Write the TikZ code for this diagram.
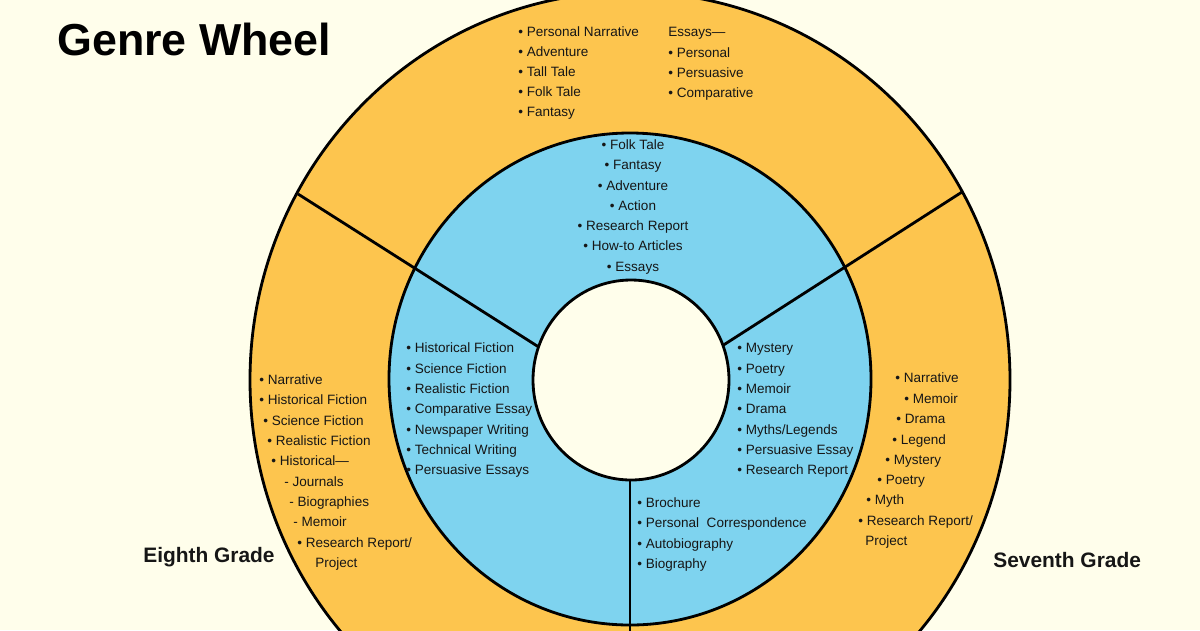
\documentclass[tikz,border=0pt]{standalone}
\usepackage{fontspec}
\setmainfont{Liberation Sans}
\definecolor{wheelorange}{RGB}{253,197,78}
\definecolor{wheelblue}{RGB}{126,211,239}
\definecolor{paper}{RGB}{255,254,235}
\definecolor{ink}{RGB}{22,22,22}

\begin{document}
\begin{tikzpicture}[x=0.02cm, y=-0.02cm,
        item/.style={font=\fontsize{7.7}{9}\selectfont, text=ink, inner sep=0pt, anchor=base west},
        grade/.style={font=\fontsize{11.9}{14}\selectfont\bfseries, text=ink, inner sep=0pt, anchor=base west},
        ring/.style={draw=black, line width=1.6pt}]
        \useasboundingbox (0,0) rectangle (1200,630);
        \clip (0,0) rectangle (1200,630);
        \fill[paper] (0,0) rectangle (1200,630);

        \coordinate (hub) at (630,405);
        \coordinate (cutleft) at (298,194);
        \coordinate (cutright) at (962,192);
        \coordinate (cutdown) at (630,780);
        \coordinate (hubdown) at (630,380);

        \draw[ring, fill=wheelorange] (630,380) ellipse [x radius=380, y radius=388];
        \draw[ring, fill=wheelblue] (630,379) ellipse [x radius=241, y radius=246];
        \draw[ring] (cutleft) -- (hub);
        \draw[ring] (cutright) -- (hub);
        \draw[ring] (hubdown) -- (cutdown);
        \draw[ring, fill=paper] (631,380) ellipse [x radius=98, y radius=100];

        \node[font=\fontsize{25.5}{30}\selectfont\bfseries, inner sep=0pt, anchor=base west] (title) at (57,55) {Genre Wheel};

        \node[item] (six1) at (518,36) {• Personal Narrative};
        \node[item] (six2) at (518,56) {• Adventure};
        \node[item] (six3) at (518,76) {• Tall Tale};
        \node[item] (six4) at (518,96) {• Folk Tale};
        \node[item] (six5) at (518,116) {• Fantasy};

        \node[item] (essay0) at (668,36) {Essays—};
        \node[item] (essay1) at (668,57) {• Personal};
        \node[item] (essay2) at (668,77) {• Persuasive};
        \node[item] (essay3) at (668,97) {• Comparative};

        \node[item, anchor=base] (core1) at (633,149) {• Folk Tale};
        \node[item, anchor=base] (core2) at (633,169) {• Fantasy};
        \node[item, anchor=base] (core3) at (633,190) {• Adventure};
        \node[item, anchor=base] (core4) at (633,210) {• Action};
        \node[item, anchor=base] (core5) at (633,230) {• Research Report};
        \node[item, anchor=base] (core6) at (633,250) {• How-to Articles};
        \node[item, anchor=base] (core7) at (633,271) {• Essays};

        \node[item] (shareleft1) at (406,352) {• Historical Fiction};
        \node[item] (shareleft2) at (406,373) {• Science Fiction};
        \node[item] (shareleft3) at (406,393) {• Realistic Fiction};
        \node[item] (shareleft4) at (406,413) {• Comparative Essay};
        \node[item] (shareleft5) at (406,434) {• Newspaper Writing};
        \node[item] (shareleft6) at (406,454) {• Technical Writing};
        \node[item] (shareleft7) at (406,474) {• Persuasive Essays};

        \node[item] (shareright1) at (737,352) {• Mystery};
        \node[item] (shareright2) at (737,373) {• Poetry};
        \node[item] (shareright3) at (737,393) {• Memoir};
        \node[item] (shareright4) at (737,413) {• Drama};
        \node[item] (shareright5) at (737,434) {• Myths/Legends};
        \node[item] (shareright6) at (737,454) {• Persuasive Essay};
        \node[item] (shareright7) at (737,474) {• Research Report};

        \node[item] (sharedown1) at (637,507) {• Brochure};
        \node[item] (sharedown2) at (637,527) {• Personal\ \ Correspondence};
        \node[item] (sharedown3) at (637,548) {• Autobiography};
        \node[item] (sharedown4) at (637,568) {• Biography};

        \node[item] (eight1) at (259,384) {• Narrative};
        \node[item] (eight2) at (259,404) {• Historical Fiction};
        \node[item] (eight3) at (263,425) {• Science Fiction};
        \node[item] (eight4) at (267,445) {• Realistic Fiction};
        \node[item] (eight5) at (271,465) {• Historical—};
        \node[item] (eight6) at (284,486) {- Journals};
        \node[item] (eight7) at (289,506) {- Biographies};
        \node[item] (eight8) at (293,526) {- Memoir};
        \node[item] (eight9) at (297,547) {• Research Report/};
        \node[item] (eight10) at (315,567) {Project};

        \node[item] (seven1) at (895,382) {• Narrative};
        \node[item] (seven2) at (904,403) {• Memoir};
        \node[item] (seven3) at (896,423) {• Drama};
        \node[item] (seven4) at (892,444) {• Legend};
        \node[item] (seven5) at (885,464) {• Mystery};
        \node[item] (seven6) at (877,484) {• Poetry};
        \node[item] (seven7) at (866,504) {• Myth};
        \node[item] (seven8) at (858,525) {• Research Report/};
        \node[item] (seven9) at (865,545) {Project};

        \node[grade] (gradeeight) at (143,562) {Eighth Grade};
        \node[grade] (gradeseven) at (993,567) {Seventh Grade};
    \end{tikzpicture}
\end{document}
